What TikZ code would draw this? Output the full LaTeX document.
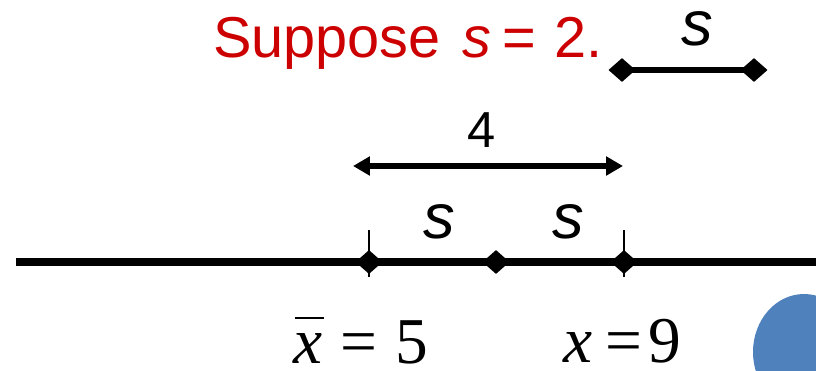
\documentclass[tikz,border=0pt]{standalone}
\usepackage{fontspec}
\setmainfont{Liberation Serif}
\newfontfamily\arialfont{Liberation Sans}
\usetikzlibrary{positioning}
\usetikzlibrary{arrows.meta}
\usetikzlibrary{shapes.geometric}
\definecolor{red}{RGB}{204,0,0}
\definecolor{blue}{RGB}{79,129,189}
\newcommand{\xbarsym}{\makebox[0pt][l]{\hspace{0.03em}\raisebox{0.67em}{\rule{0.44em}{0.035em}}}\textit{x}}

\begin{document}
\begin{tikzpicture}[x=0.025cm, y=-0.025cm,
    dot/.style={draw=none, fill=black, shape=diamond, inner sep=0pt, minimum width=0.68cm, minimum height=0.6cm},
    axis/.style={line width=5.2pt},
    seg/.style={line width=4.6pt},
    tick/.style={line width=1pt},
    sym/.style={anchor=base, inner sep=0pt, text height=0.55em, font=\arialfont\itshape\fontsize{45}{45}\selectfont},
    eqn/.style={anchor=base west, inner sep=0pt, text depth=0pt, font=\fontsize{46.5}{46.5}\selectfont}]
    \clip (0,0) rectangle (816,370);

    % number line
    \coordinate (lineL) at (16,262);
    \coordinate (lineR) at (830,262);
    \node[dot] (d1) at (369,262) {};
    \node[dot] (d2) at (496,262) {};
    \node[dot] (d3) at (624,262) {};
    \draw[axis] (lineL) -- (d1.center) -- (d2.center) -- (d3.center) -- (lineR);
    \coordinate (d1top) at (369,230);
    \coordinate (d1bot) at (369,277);
    \coordinate (d3top) at (624,230);
    \coordinate (d3bot) at (624,277);
    \draw[tick] (d1top) -- (d1bot);
    \draw[tick] (d3top) -- (d3bot);
    \node[sym] (sleft) at (439,238) {s};
    \node[sym] (sright) at (568,238) {s};

    % distance 4
    \coordinate (arrL) at (353,166);
    \coordinate (arrR) at (623,166);
    \draw[seg, {Triangle[length=12pt,width=13pt]}-{Triangle[length=12pt,width=13pt]}] (arrL) -- (arrR);
    \node[anchor=base, inner sep=0pt, font=\arialfont\fontsize{36}{36}\selectfont] (four) at (482,147) {4};

    % one s
    \node[dot] (t1) at (622,70) {};
    \node[dot] (t2) at (754,70) {};
    \draw[seg] (t1.center) -- (t2.center);
    \node[sym] (stop) at (697,45) {s};
    \node[anchor=base west, inner sep=0pt, text=red, font=\arialfont\fontsize{41}{41}\selectfont] (suppose) at (213,57) {Suppose\hspace{0.38em}\textit{s}\hspace{0.19em}=\hspace{0.32em}2.};

    % values
    \node[eqn] (xbar) at (293,363) {\xbarsym\hspace{0.28em}=\hspace{0.27em}5};
    \node[eqn] (xnine) at (563,362) {\textit{x}\hspace{0.2em}=\hspace{0.1em}9};

    \fill[blue] (804,352) ellipse [x radius=51, y radius=58];
\end{tikzpicture}
\end{document}
